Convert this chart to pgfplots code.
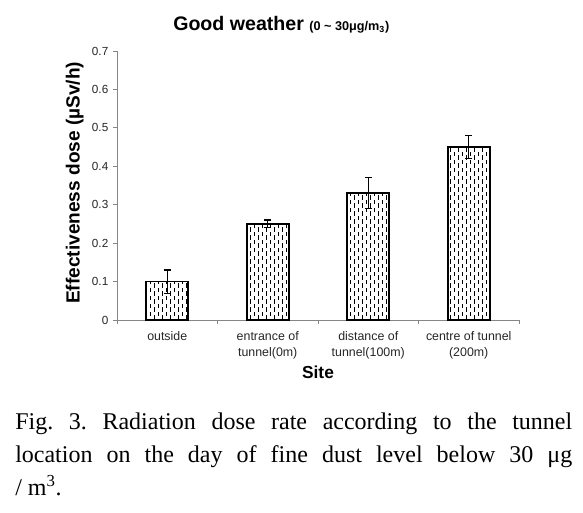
\documentclass[border=0pt]{standalone}
\usepackage{fontspec}
\setmainfont{Liberation Sans}
\newfontfamily\serifcap{Liberation Serif}
\usepackage{pgfplots}
\pgfplotsset{compat=1.18}
\usetikzlibrary{patterns}
\definecolor{axgray}{RGB}{134,134,134}
\pgfdeclarepatternformonly{vdash}{\pgfqpoint{-0.1pt}{-0.1pt}}{\pgfqpoint{6.1pt}{6.1pt}}{\pgfqpoint{6pt}{6pt}}{%
  \pgfsetlinewidth{0.55pt}%
  \pgfpathmoveto{\pgfqpoint{1.5pt}{0.2pt}}\pgfpathlineto{\pgfqpoint{1.5pt}{3.6pt}}%
  \pgfpathmoveto{\pgfqpoint{4.5pt}{3.2pt}}\pgfpathlineto{\pgfqpoint{4.5pt}{5.9pt}}%
  \pgfusepath{stroke}}
\begin{document}
\begin{tikzpicture}
\begin{axis}[
  scale only axis, width=301.5pt, height=201.75pt,
  xmin=0.5, xmax=4.5, ymin=0, ymax=0.7,
  axis x line*=bottom, axis y line*=left,
  axis line style={draw=axgray, line width=0.6pt},
  /pgf/number format/assume math mode=true,
  ytick={0,0.1,0.2,0.3,0.4,0.5,0.6,0.7},
  yticklabels={0,0.1,0.2,0.3,0.4,0.5,0.6,0.7},
  xtick={1,2,3,4},
  xticklabels={outside,{entrance of\\tunnel(0m)},{distance of\\tunnel(100m)},{centre of tunnel\\(200m)}},
  minor xtick={0.5,1.5,2.5,3.5,4.5},
  tick align=outside, major tick length=3pt, minor tick length=3pt,
  tick style={draw=axgray, line width=0.6pt},
  major x tick style={draw=none},
  yticklabel style={font=\fontsize{8.8}{10}\selectfont, text=black!85},
  xticklabel style={font=\fontsize{9.3}{12}\selectfont, align=center, text=black!85, yshift=-2pt},
  every axis y label/.style={at={(axis description cs:-0.105,0.51)}, rotate=90, anchor=center},
  every axis x label/.style={at={(axis description cs:0.5,-0.193)}, anchor=center},
  ylabel={\fontsize{14.3}{16}\selectfont\bfseries Effectiveness dose (µSv/h)},
  xlabel={\fontsize{13}{15}\selectfont\bfseries Site},
]
\addplot[ybar, bar width=31.5pt, fill=white, draw=black, line width=1.2pt,
  postaction={pattern=vdash},
  error bars/.cd, y dir=both, y explicit, error mark=-,
  error bar style={line width=0.9pt, black},
  error mark options={rotate=90, mark size=2.5pt, line width=0.9pt, black}]
  coordinates {(1,0.10) +- (0,0.03) (2,0.25) +- (0,0.01) (3,0.33) +- (0,0.04) (4,0.45) +- (0,0.03)};
\end{axis}
\node[anchor=base west, inner sep=0pt] at (42pt,217.5pt)
  {\fontsize{14.7}{17}\selectfont\bfseries Good weather {\fontsize{9.5}{10}\selectfont (0 \textasciitilde{} 30μg/m\textsubscript{3})}};
\node[anchor=base west, inner sep=0pt, text width=417.75pt, align=justify,
  font=\serifcap\fontsize{18}{24.75}\selectfont] at (-76.5pt,-81.75pt)
  {\frenchspacing\hyphenpenalty=10000\exhyphenpenalty=10000 Fig. 3. Radiation dose rate according to the tunnel\linebreak location on the day of fine dust level below 30 μg\linebreak / m\textsuperscript{3}.};
\path[use as bounding box] (-87.75pt,-144pt) rectangle (349.5pt,240pt);
\end{tikzpicture}
\end{document}
